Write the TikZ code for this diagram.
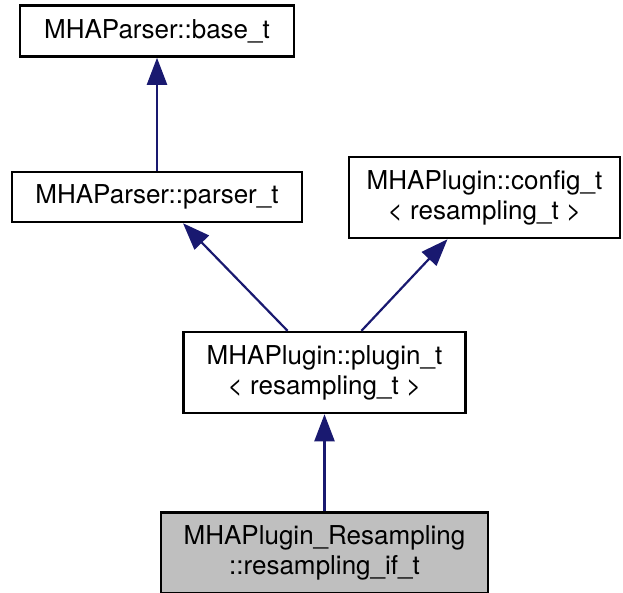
\documentclass[tikz,border=0pt]{standalone}
\usepackage{fontspec}
\setmainfont{TeX Gyre Heros}
\usepackage{tikz}
\usetikzlibrary{arrows.meta,positioning}

\definecolor{edgeblue}{HTML}{191970}
\definecolor{selgray}{HTML}{BFBFBF}

\begin{document}
\begin{tikzpicture}[
    x=1pt, y=-1pt,
    node distance=97pt,
    cls/.style={draw, line width=2.5pt, fill=white, align=center,
                inner sep=0pt, minimum height=50pt,
                font=\fontsize{26}{30}\selectfont},
    twoline/.style={cls, minimum height=81pt},
    inherit/.style={draw=edgeblue, line width=2.2pt,
                -{Triangle[length=27pt,width=20pt]}}
]

\useasboundingbox (0,0) rectangle (623,592);

\node[twoline, fill=selgray, minimum width=327pt] (resamp) at (324.5,553)
    {MHAPlugin\_Resampling\\::resampling\_if\_t};
\node[twoline, minimum width=282pt, above=97pt of resamp] (plugin)
    {MHAPlugin::plugin\_t\\< resampling\_t >};
\node[cls, minimum width=290pt] (parser) at (157,197) {MHAParser::parser\_t};
\node[twoline, minimum width=271pt] (config) at (484.5,197.5)
    {MHAPlugin::config\_t\\< resampling\_t >};
\node[cls, minimum width=274pt, minimum height=51pt, above=113pt of parser] (base)
    {MHAParser::base\_t};

\draw[inherit] (parser.north) -- (base.south);
\draw[inherit] ([xshift=-37pt]plugin.north) -- ([xshift=26pt]parser.south);
\draw[inherit] ([xshift=37pt]plugin.north) -- ([xshift=-37pt]config.south);
\draw[inherit] (resamp) -- (plugin);

\end{tikzpicture}
\end{document}
